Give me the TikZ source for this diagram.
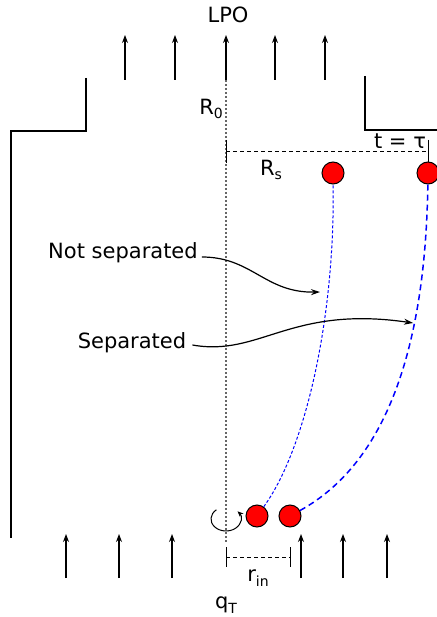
\documentclass[tikz,border=0pt]{standalone}
\usepackage{fontspec}
\setmainfont{DejaVu Sans}
\usetikzlibrary{arrows.meta}
\newcommand{\sbs}[1]{\raisebox{-0.4ex}{\fontsize{14}{14}\selectfont #1}}
\begin{document}
\begin{tikzpicture}[x=1pt,y=-1pt,
  wall/.style={line width=2pt, line join=miter, line cap=butt},
  flow/.style={line width=1.2pt,-{Stealth[length=8pt,width=6pt]}},
  lbl/.style={font=\fontsize{21}{24}\selectfont, inner sep=0pt},
  particle/.style={circle, draw=black, line width=1pt, fill=red, minimum size=22pt, inner sep=0pt},
  axisline/.style={black!60, line width=1.3pt, dash pattern=on 2pt off 2pt},
  dimline/.style={line width=0.9pt, dash pattern=on 4pt off 3pt},
  tick/.style={line width=1pt},
  pathfine/.style={blue, line width=1pt, dash pattern=on 3pt off 2pt},
  pathcoarse/.style={blue, line width=1.5pt, dash pattern=on 6pt off 4pt},
  pointer/.style={line width=1.2pt,-{Stealth[length=9pt,width=6pt]}}
]
\useasboundingbox (0,0) rectangle (436,617);

% walls
\draw[wall] (86,78) -- (86,131) -- (11,131) -- (11,538);
\draw[wall] (365,76) -- (365,130) -- (440,130);

% outflow arrows (top)
\foreach \x in {125,175,226,275,325} \draw[flow] (\x,80) -- (\x,35);
% inflow arrows (bottom)
\foreach \x in {66,119,172,301,343,387} \draw[flow] (\x,578) -- (\x,534);

% axis
\draw[axisline] (226,80) -- (226,543);

% labels
\node[lbl] (lpo) at (228,15) {LPO};
\node[lbl] (r0) at (211,109) {R\sbs{0}};
\node[lbl] (tt) at (400,141) {t = τ};
\node[lbl] (rs) at (271,170) {R\sbs{s}};
\node[lbl] (ns) at (123,253) {Not separated};
\node[lbl] (sp) at (132,343) {Separated};
\node[lbl] (rin) at (258,578) {r\sbs{in}};
\node[lbl] (qt) at (226,605) {q\sbs{T}};

% R_s dimension
\draw[tick] (226,140) -- (226,163);
\draw[tick] (428,140) -- (428,162);
\draw[dimline] (226,151) -- (428,151);

% r_in dimension
\draw[tick] (226,547) -- (226,567);
\draw[tick] (290,547) -- (290,567);
\draw[dimline] (226,557) -- (290,557);

% particles
\node[particle] (top1) at (333,173) {};
\node[particle] (top2) at (428,173) {};
\node[particle] (bot1) at (257,516) {};
\node[particle] (bot2) at (290,516) {};

% trajectories
\draw[pathfine] (bot1) .. controls (305,450) and (335,320) .. (top1);
\draw[pathcoarse] (bot2) .. controls (370,472) and (425,380) .. (top2);

% rotation
\draw[line width=1pt,-{Stealth[length=6pt,width=5pt]}] (226,519) ++(130:15pt and 12pt) arc[start angle=130,end angle=400,x radius=15pt,y radius=12pt];

% pointers
\coordinate (nsend) at (320,292);
\coordinate (spend) at (413,323);
\draw[pointer] (ns.east) ++(4,4) .. controls (252,257) and (265,293) .. (nsend);
\draw[pointer] (sp.east) ++(6,2) .. controls (260,357) and (290,305) .. (spend);
\end{tikzpicture}
\end{document}
